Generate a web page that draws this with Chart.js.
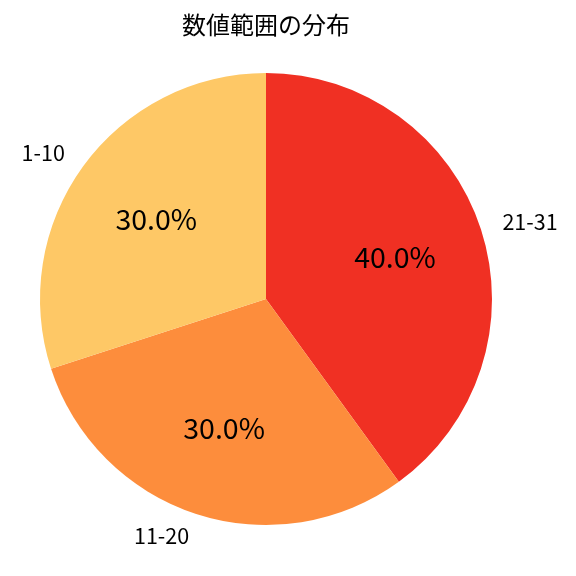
<!DOCTYPE html>
<html>
<head>
<meta charset="utf-8">
<script src="https://cdn.jsdelivr.net/npm/chart.js@4"></script>
<style>
    html, body { margin: 0; padding: 0; background: #fff; }
    #wrap { width: 576px; height: 576px; }
</style>
</head>
<body>
<div id="wrap"><canvas id="pieChart"></canvas></div>
<script>
// Data
const categories = ['1-10', '11-20', '21-31'];
const shares = [30, 30, 40];
const sliceColors = ['#FEC866', '#FD8D3C', '#F03023'];
const chartTitle = '数値範囲の分布';

const FONT = "'Noto Sans CJK JP', 'Noto Sans', sans-serif";

// matplotlib draws counterclockwise from the top; Chart.js goes clockwise, so reverse
const labels = categories.slice().reverse();
const values = shares.slice().reverse();
const colors = sliceColors.slice().reverse();

// Draw category names outside and percentages inside each slice
const sliceLabels = {
    id: 'sliceLabels',
    afterDatasetsDraw(chart) {
        const ctx = chart.ctx;
        const meta = chart.getDatasetMeta(0);
        const total = values.reduce((a, b) => a + b, 0);
        ctx.save();
        ctx.fillStyle = '#000';
        ctx.textBaseline = 'middle';
        meta.data.forEach((arc, i) => {
            const mid = (arc.startAngle + arc.endAngle) / 2;
            const r = arc.outerRadius;
            const cos = Math.cos(mid), sin = Math.sin(mid);

            // category label at 1.1 * radius
            ctx.font = `21.5px ${FONT}`;
            ctx.textAlign = cos >= 0 ? 'left' : 'right';
            ctx.fillText(labels[i], arc.x + r * 1.1 * cos, arc.y + r * 1.1 * sin);

            // percentage at 0.6 * radius
            ctx.font = `28.5px ${FONT}`;
            ctx.textAlign = 'center';
            const pct = (values[i] / total * 100).toFixed(1) + '%';
            ctx.fillText(pct, arc.x + r * 0.6 * cos, arc.y + r * 0.6 * sin);
        });
        ctx.restore();
    }
};

const ctx = document.getElementById('pieChart').getContext('2d');
const pieChart = new Chart(ctx, {
    type: 'pie',
    data: {
        labels: labels,
        datasets: [{
            data: values,
            backgroundColor: colors,
            borderWidth: 0,
            hoverOffset: 0
        }]
    },
    options: {
        responsive: true,
        maintainAspectRatio: false,
        animation: false,
        rotation: 0,
        layout: {
            padding: { left: 40, right: 84, top: 0, bottom: 51 }
        },
        plugins: {
            legend: { display: false },
            tooltip: { enabled: false },
            title: {
                display: true,
                text: chartTitle,
                color: '#000',
                font: { family: FONT, size: 24, weight: 'normal' },
                padding: { top: 10.6, bottom: 33.6 }
            }
        }
    },
    plugins: [sliceLabels]
});
</script>
</body>
</html>
